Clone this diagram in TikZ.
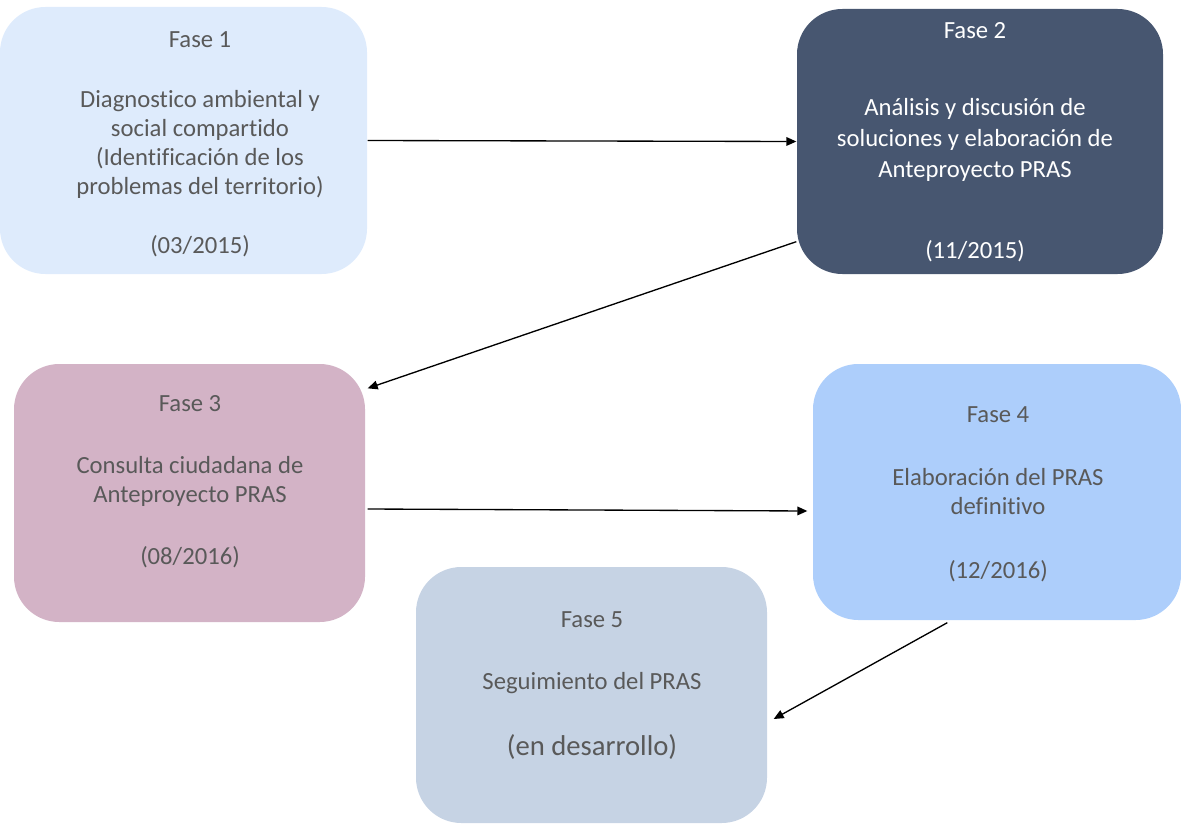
\documentclass[tikz,border=0pt]{standalone}
\usepackage{fontspec}
\setmainfont{Carlito}[Ligatures=NoCommon]
\usetikzlibrary{arrows.meta,calc}

\definecolor{faseuno}{HTML}{DEEBFC}
\definecolor{fasedos}{HTML}{475670}
\definecolor{fasetres}{HTML}{D3B3C6}
\definecolor{fasecuatro}{HTML}{ADCEFB}
\definecolor{fasecinco}{HTML}{C6D3E4}
\definecolor{txtgray}{HTML}{595959}

\begin{document}
\begin{tikzpicture}[x=0.75pt,y=-0.75pt,->,>={Triangle[length=7.5pt,width=6.5pt]},line width=1pt,
  fase box/.style={rounded corners=34pt,inner sep=0pt,draw=none},
  fase text/.style={text=txtgray,font=\fontsize{18.5}{21.75}\selectfont,align=center,inner sep=0pt}]
  \useasboundingbox (0,0) rectangle (1181,824);

  % boxes
  \node[fase box,fill=faseuno,minimum width=275.25pt,minimum height=200.25pt] (f1) at (183.5,140.5) {};
  \node[fase box,fill=fasedos,minimum width=274.5pt,minimum height=198.75pt] (f2) at (980,141.5) {};
  \node[fase box,fill=fasetres,minimum width=263.25pt,minimum height=193.5pt] (f3) at (189.5,493) {};
  \node[fase box,fill=fasecuatro,minimum width=276pt,minimum height=192pt] (f4) at (997,492) {};
  \node[fase box,fill=fasecinco,minimum width=263.25pt,minimum height=192pt] (f5) at (591.5,695) {};

  % texts
  \node[fase text] (t1) at (200,40) {Fase 1};
  \node[fase text] (b1) at (200,144) {Diagnostico ambiental y\\social compartido\\(Identificación de los\\problemas del territorio)};
  \node[fase text] (d1) at (200,246) {(03/2015)};

  \node[fase text,text=white] (t2) at (975,31) {Fase 2};
  \node[fase text,text=white,font=\fontsize{18.5}{23.25}\selectfont] (b2) at (975,140) {Análisis y discusión de\\soluciones y elaboración de\\Anteproyecto PRAS};
  \node[fase text,text=white] (d2) at (975,251) {(11/2015)};

  \node[fase text] (t3) at (190,404) {Fase 3};
  \node[fase text] (b3) at (190,481) {Consulta ciudadana de\\Anteproyecto PRAS};
  \node[fase text] (d3) at (190,557) {(08/2016)};

  \node[fase text] (t4) at (998,415) {Fase 4};
  \node[fase text] (b4) at (998,492) {Elaboración del PRAS\\definitivo};
  \node[fase text] (d4) at (998,571) {(12/2016)};

  \node[fase text] (t5) at (592,620) {Fase 5};
  \node[fase text] (b5) at (592,683) {Seguimiento del PRAS};
  \node[fase text,font=\fontsize{21.5}{24}\selectfont] (d5) at (592,747) {(en desarrollo)};

  % arrows
  \path
    (f1.east) edge (f2.west)
    ($(f2.south west)+(0,-33)$) edge ($(f3.north east)+(2,25)$)
    ($(f3.east)+(2,16)$) edge ($(f4.west)+(-5,19)$)
    ($(f4.south west)+(135,2)$) edge ($(f5.east)+(6,24)$);
\end{tikzpicture}
\end{document}
